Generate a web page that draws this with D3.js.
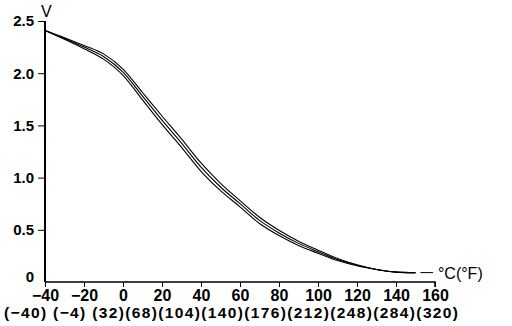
<!DOCTYPE html>
<html>
<head>
<meta charset="utf-8">
<script src="https://cdn.jsdelivr.net/npm/d3@7"></script>
<style>
  body { margin: 0; background: #fff; }
  svg { display: block; font-family: "Liberation Sans", Arial, sans-serif; }
  .tick text { font-size: 15px; font-weight: bold; fill: #000; }
  .x-axis .tick text { font-size: 16px; }
</style>
</head>
<body>
<div id="chart"></div>
<script>
// temperature in °C, output voltage for three sensor curves
const tempC = [-40, -30, -20, -10, 0, 10, 20, 30, 40, 50, 60, 70, 80, 90, 100, 110, 120, 130, 140, 150];
const voltsUpper = [2.41, 2.34, 2.265, 2.185, 2.04, 1.815, 1.59, 1.37, 1.14, 0.945, 0.78, 0.62, 0.495, 0.39, 0.305, 0.225, 0.165, 0.12, 0.095, 0.09];
const voltsMid = [2.41, 2.333, 2.25, 2.16, 2.01, 1.78, 1.55, 1.33, 1.10, 0.91, 0.75, 0.59, 0.47, 0.37, 0.29, 0.215, 0.16, 0.12, 0.095, 0.09];
const voltsLower = [2.41, 2.325, 2.235, 2.135, 1.98, 1.745, 1.51, 1.29, 1.06, 0.875, 0.72, 0.56, 0.445, 0.35, 0.275, 0.205, 0.155, 0.12, 0.095, 0.09];

const xTicks = [-40, -20, 0, 20, 40, 60, 80, 100, 120, 140, 160];
const fahrenheitLabels = ['(−40)', '(−4)', '(32)', '(68)', '(104)', '(140)', '(176)', '(212)', '(248)', '(284)', '(320)'];
const yTicks = [0, 0.5, 1.0, 1.5, 2.0, 2.5];

const width = 512;
const height = 326;
const margin = { top: 21, right: 77, bottom: 44, left: 45 };

const x = d3.scaleLinear()
  .domain([-40, 160])
  .range([margin.left, width - margin.right]);

const y = d3.scaleLinear()
  .domain([0, 2.5])
  .range([height - margin.bottom, margin.top]);

const svg = d3.select('#chart')
  .append('svg')
  .attr('width', width)
  .attr('height', height);

// y axis
svg.append('g')
  .attr('transform', `translate(${margin.left},0)`)
  .call(d3.axisLeft(y).tickValues(yTicks).tickSize(7).tickPadding(4)
    .tickFormat((d) => (d === 0 ? '0' : d3.format('.1f')(d))))
  .call((g) => g.selectAll('.tick').filter((d) => d === 0).select('line').remove())
  .call((g) => g.selectAll('.tick').filter((d) => d === 0).select('text').attr('dy', '-0.05em'))
  .call((g) => g.select('.domain').attr('d', `M0,${y(2.5)}V${y(0)}`).attr('stroke', '#000').attr('stroke-width', 2));

// x axis
svg.append('g')
  .classed('x-axis', true)
  .attr('transform', `translate(0,${y(0)})`)
  .call(d3.axisBottom(x).tickValues(xTicks).tickSize(5).tickPadding(3)
    .tickFormat((d) => (d < 0 ? '−' + Math.abs(d) : d)))
  .call((g) => g.select('.domain').attr('d', `M${x(-40)},0H${x(160)}V5`).attr('stroke', '#000').attr('stroke-width', 1.5));

// fahrenheit row, runs together like the original
svg.append('text')
  .attr('x', 4)
  .attr('y', y(0) + 36)
  .attr('textLength', 454)
  .attr('lengthAdjust', 'spacing')
  .style('font-size', '15.5px')
  .style('font-weight', 'bold')
  .text(fahrenheitLabels.slice(0, 2).join(' ') + '  ' + fahrenheitLabels.slice(2).join(''));

svg.append('text')
  .attr('x', margin.left - 4)
  .attr('y', 17)
  .style('font-size', '16px')
  .text('V');

const line = d3.line()
  .x((d) => x(d[0]))
  .y((d) => y(d[1]))
  .curve(d3.curveMonotoneX);

[voltsUpper, voltsMid, voltsLower].forEach((vals) => {
  svg.append('path')
    .datum(tempC.map((t, i) => [t, vals[i]]))
    .attr('fill', 'none')
    .attr('stroke', '#000')
    .attr('stroke-width', 1.1)
    .attr('d', line);
});

// leader dash and unit label
const lastV = voltsMid[voltsMid.length - 1];
svg.append('line')
  .attr('x1', x(152.5)).attr('x2', x(159))
  .attr('y1', y(lastV)).attr('y2', y(lastV))
  .attr('stroke', '#000');

svg.append('text')
  .attr('x', x(161.5))
  .attr('y', y(lastV) + 6)
  .style('font-size', '16px')
  .text('°C(°F)');
</script>
</body>
</html>
